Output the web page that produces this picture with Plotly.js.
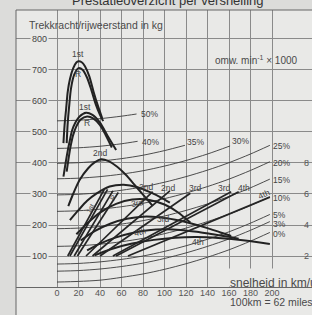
<!DOCTYPE html>
<html><head><meta charset="utf-8">
<script src="https://cdn.plot.ly/plotly-3.0.1.min.js"></script>
<style>html,body{margin:0;padding:0;background:#dcdcda}</style>
</head><body><div id="c" style="width:312px;height:315px"></div>
<script>
// ---- axis ticks ----
const speedTicks = [0,20,40,60,80,100,120,140,160,180,200];
const forceTicks = [100,200,300,400,500,600,700,800];
const rpmTicks = [2,4,6,8];

// ---- tractive force curves per gear (speed km/h, force kg) ----
const t1stA_v = [6,7,8.5,10,12,15,18,20,23,26,30,34,38,42];
const t1stA_f = [464,520,575,630,670,705,724,728,725,712,680,630,585,545];
const tRA_v = [9,10,11.5,13,16,20,24,28,32,36,40,43];
const tRA_f = [464,530,590,640,685,706,700,675,635,590,555,535];
const t1stB_v = [6,8,10,12,14,17,21,27,33,40,47,55];
const t1stB_f = [356,400,440,474,505,530,550,562,555,530,488,442];
const tRB_v = [9,11,13,15,18,22,28,34,40,45,51];
const tRB_f = [372,420,460,490,518,540,550,543,522,492,450];
const t2ndA_v = [10.5,15,21,29,35,41,48,56,64,72,80,89];
const t2ndA_f = [261,300,345,383,402,412,406,388,362,330,298,262];
const t2ndB_v = [12,20,28,37,49,62,75,87,96,105];
const t2ndB_f = [216,248,278,302,324,330,322,305,290,272];
const t3rdA_v = [18,28,40,55,70,86,100,112,124];
const t3rdA_f = [170,205,240,268,282,281,266,242,208];
const t3rdB_v = [22,35,50,65,80,95,110,125,140,152,162];
const t3rdB_f = [150,180,205,220,227,225,217,205,190,176,165];
const t4thA_v = [28,40,55,70,85,100,115,130,145,158,169];
const t4thA_f = [118,140,160,174,183,186,184,178,170,163,156];
const t4thB_v = [35,50,70,90,110,130,150,175,198];
const t4thB_f = [102,122,140,152,159,161,158,150,139];

// ---- engine speed lines (speed km/h, rpm x1000) ----
const r1stA_v = [10,44], r1stA_r = [2,6.3];
const rRA_v = [12,47], rRA_r = [2,6.3];
const r1stB_v = [16,52], r1stB_r = [2,6.2];
const rRB_v = [19,57], rRB_r = [2,6.1];
const r2ndA_v = [27,89], r2ndA_r = [2,6.15];
const r2ndB_v = [33,105], r2ndB_r = [2,6.2];
const r3rdA_v = [40,124], r3rdA_r = [2,6.05];
const r3rdB_v = [52,162], r3rdB_r = [2,6.15];
const r4thA_v = [55,169], r4thA_r = [2,6.15];
const r4thB_v = [66,198], r4thB_r = [2,5.8];

// ---- driving resistance per gradient (speed km/h, force kg) ----
const resSpeedFull = [0,20,40,60,80,100,120,140,160,180,198];
const res0 = [16,18,22,31,42,57,75,96,120,148,176];
const res3 = [51,53,58,66,77,92,110,131,155,183,211];
const res5 = [74,76,81,89,100,115,133,154,178,206,234];
const res10 = [131,133,138,146,157,172,190,211,235,263,291];
const res15 = [188,190,195,203,214,229,247,268,292,320,348];
const res20 = [244,246,251,259,270,285,303,324,348,376,404];
const res25 = [297,299,304,312,323,338,356,377,401,429,457];
const res30_v = [0,20,40,60,80,100,120,140,161];
const res30 = [349,351,356,364,375,390,408,429,455];
const res35_v = [0,20,40,60,80,100,119];
const res35 = [399,401,406,414,425,440,457];
const res40_v = [0,20,40,60,75];
const res40 = [447,449,454,462,470];
const res50_v = [0,20,40,60,74];
const res50 = [536,538,543,551,558];

const BG = '#e9e9e7';
const traces = [];
function tr(x, y, w, col, axis){
  traces.push({x:x, y:y, type:'scatter', mode:'lines', yaxis: axis||'y',
    line:{color:col, width:w, shape:'spline', smoothing:0.8}, hoverinfo:'skip', showlegend:false});
}
// resistance (thin)
[res0,res3,res5,res10,res15,res20,res25].forEach(a=>tr(resSpeedFull,a,0.9,'#3a3a3a'));
tr(res30_v,res30,0.9,'#3a3a3a'); tr(res35_v,res35,0.9,'#3a3a3a');
tr(res40_v,res40,0.9,'#3a3a3a'); tr(res50_v,res50,0.9,'#3a3a3a');
// rpm lines
[[r1stA_v,r1stA_r],[rRA_v,rRA_r],[r1stB_v,r1stB_r],[rRB_v,rRB_r],[r2ndA_v,r2ndA_r],
 [r2ndB_v,r2ndB_r],[r3rdA_v,r3rdA_r],[r3rdB_v,r3rdB_r],[r4thA_v,r4thA_r],[r4thB_v,r4thB_r]]
 .forEach(p=>tr(p[0],p[1],1.7,'#252525','y2'));
// tractive force (thick)
[[t1stA_v,t1stA_f],[tRA_v,tRA_f],[t1stB_v,t1stB_f],[tRB_v,tRB_f],[t2ndA_v,t2ndA_f],
 [t2ndB_v,t2ndB_f],[t3rdA_v,t3rdA_f],[t3rdB_v,t3rdB_f],[t4thA_v,t4thA_f],[t4thB_v,t4thB_f]]
 .forEach(p=>tr(p[0],p[1],2,'#222'));

const FONT = 'Liberation Sans, Arial, sans-serif';
const ann = [];
function lab(x,y,t,opt){
  ann.push(Object.assign({x:x,y:y,xref:'x',yref:'y',text:t,showarrow:false,
    xanchor:'center',yanchor:'middle',
    font:{family:FONT,size:8.5,color:'#444'}},opt||{}));
}
// y tick labels with gap in grid line
forceTicks.forEach(v=>ann.push({xref:'paper',yref:'y',x:0.081,y:v,xanchor:'center',yanchor:'middle',
  text:String(v),showarrow:false,bgcolor:BG,borderpad:1,font:{family:FONT,size:9,color:'#444'}}));
// curve labels
lab(19.5,752,'1st'); lab(19.5,688,'R'); lab(26,582,'1st'); lab(27.6,528,'R'); lab(40,433,'2nd');
// gradient labels
const L = {xanchor:'left'};
lab(76,558,'50%',L); lab(77,469,'40%',L); lab(119,469,'35%',L); lab(161,471,'30%',L);
lab(199,455,'25%',L); lab(199,400,'20%',L); lab(199,345,'15%',L); lab(199,287,'10%',L);
lab(199,233,'5%',L); lab(199,204,'3%',L); lab(199,170,'0%',L);
// gear labels
lab(83,323,'2nd'); lab(103,319,'2nd'); lab(129,320,'3rd'); lab(156,320,'3rd'); lab(174,320,'4th');
lab(193,299,'4th',{textangle:-25});
lab(75,272,'3rd',{textangle:-10}); lab(77,178,'4th',{textangle:-15});
lab(99,219,'3rd'); lab(131,145,'4th');
lab(31,252,'1st',{textangle:-62,font:{family:FONT,size:7,color:'#444'}});
lab(52,290,'R',{textangle:-62,font:{family:FONT,size:7,color:'#444'}});
// axis captions and title
function cap(x,y,t,size,xa){
  ann.push({xref:'paper',yref:'paper',x:x,y:y,xanchor:xa,yanchor:'middle',text:t,showarrow:false,
    font:{family:FONT,size:size,color:'#4a4a4a'}});
}
cap(0.037,0.946,'Trekkracht/rijweerstand in kg',10.5,'left');
cap(0.814,0.8195,'omw. min<sup>-1</sup> × 1000',10,'center');
cap(0.716,0.0144,'snelheid in km/u',12,'left');
cap(0.716,-0.054,'100km = 62 miles',10.5,'left');
ann.push({xref:'paper',yref:'paper',x:0.512,y:1.034,xanchor:'center',yanchor:'middle',
  text:'Prestatieoverzicht per versnelling',showarrow:false,font:{family:FONT,size:13,color:'#333'}});

const layout = {
  width:312, height:315, margin:{l:16,r:0,t:10,b:28},
  paper_bgcolor:'#dcdcda', plot_bgcolor:BG,
  xaxis:{range:[-38.14,237.2], tickvals:speedTicks, ticktext:speedTicks.map(String), showgrid:true,
    gridcolor:'#8a8a8a', gridwidth:1, zeroline:false, showline:true, linecolor:'#666', linewidth:1,
    ticks:'', ticklabelstandoff:-3, tickfont:{family:FONT,size:9,color:'#555'}, fixedrange:true},
  yaxis:{range:[0,893.5], tickvals:forceTicks, showticklabels:false, showgrid:true, gridcolor:'#8a8a8a',
    gridwidth:1, zeroline:false, showline:false, ticks:'', fixedrange:true},
  yaxis2:{range:[0,17.87], overlaying:'y', side:'right', tickvals:rpmTicks, ticktext:rpmTicks.map(String),
    showgrid:false, zeroline:false, ticks:'', ticklabelposition:'inside',
    tickfont:{family:FONT,size:9,color:'#555'}, fixedrange:true},
  shapes:[
    {type:'rect',xref:'paper',yref:'paper',x0:0,x1:1,y0:-0.11,y1:1,fillcolor:BG,line:{width:0},layer:'below'},
    {type:'rect',xref:'x',yref:'y',x0:152,x1:240,y0:2,y1:60,fillcolor:BG,line:{width:0},layer:'between'},
    {type:'line',xref:'paper',yref:'paper',x0:0,x1:1,y0:1,y1:1,line:{color:'#666',width:1}},
    {type:'line',xref:'paper',yref:'paper',x0:0,x1:0,y0:-0.11,y1:1,line:{color:'#666',width:1}}
  ],
  annotations:ann, showlegend:false
};
Plotly.newPlot('c', traces, layout, {staticPlot:true, displayModeBar:false});
</script></body></html>
